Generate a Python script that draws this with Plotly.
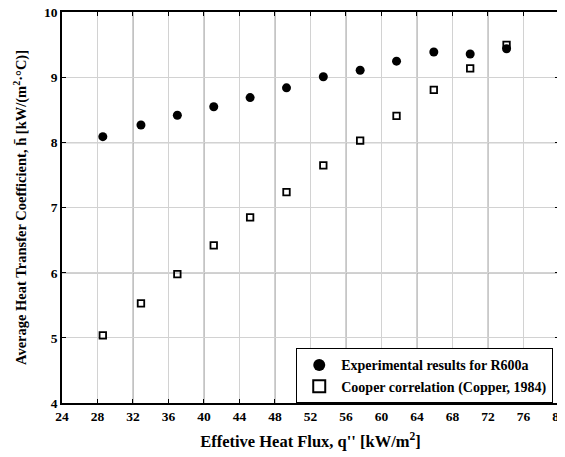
import plotly.graph_objects as go

heat_flux = [28.6, 32.9, 37.0, 41.1, 45.2, 49.3, 53.45, 57.6, 61.7, 65.9, 70.0, 74.1]
h_experimental = [8.09, 8.27, 8.42, 8.55, 8.69, 8.84, 9.01, 9.11, 9.25, 9.39, 9.36, 9.44]
h_cooper = [5.04, 5.53, 5.98, 6.42, 6.85, 7.24, 7.65, 8.03, 8.41, 8.81, 9.14, 9.50]

x_ticks = list(range(24, 81, 4))
y_ticks = list(range(4, 11, 1))
x_major_grid = [32, 40, 48, 56, 64, 72]
y_major_grid = [6, 8]

font = "Liberation Serif, Times New Roman, serif"

fig = go.Figure()
fig.add_trace(go.Scatter(
    x=heat_flux, y=h_experimental, mode="markers",
    name="Experimental results for R600a",
    marker=dict(symbol="circle", size=9, color="black"),
))
fig.add_trace(go.Scatter(
    x=heat_flux, y=h_cooper, mode="markers",
    name="Cooper correlation (Copper, 1984)",
    marker=dict(symbol="square-open", size=6.5, color="black", line=dict(width=1.8, color="black")),
))

shapes = []
for xv in x_major_grid:
    shapes.append(dict(type="line", xref="x", yref="paper", x0=xv, x1=xv, y0=0, y1=1,
                       line=dict(color="#a0a0a0", width=1.3), layer="below"))
for yv in y_major_grid:
    shapes.append(dict(type="line", xref="paper", yref="y", x0=0, x1=1, y0=yv, y1=yv,
                       line=dict(color="#a0a0a0", width=1.3), layer="below"))

bold = dict(family=font, color="black", weight="bold")

fig.update_layout(
    width=565, height=449,
    margin=dict(l=54, r=14, t=4, b=54, autoexpand=False),
    paper_bgcolor="white", plot_bgcolor="white",
    font=dict(family=font, size=13, color="black", weight="bold"),
    showlegend=True,
    legend=dict(x=0.988, y=0.07, xanchor="right", yanchor="middle",
                bordercolor="black", borderwidth=1.2, bgcolor="white",
                font=dict(size=14, **bold),
                tracegroupgap=0, itemsizing="constant", itemwidth=34),
    shapes=shapes,
    xaxis=dict(
        range=[24, 80.01], tickvals=x_ticks,
        showgrid=True, gridcolor="#d2d2d2", gridwidth=1,
        showline=True, linecolor="black", linewidth=1.6, mirror="ticks",
        ticks="inside", ticklen=4, tickcolor="black",
        zeroline=False, automargin=False, ticklabeloverflow="allow",
        title=dict(text="Effetive Heat Flux, q'' [kW/m<sup>2</sup>]",
                   font=dict(size=16.5, **bold), standoff=12),
        tickfont=dict(size=13.5, **bold),
    ),
    yaxis=dict(
        range=[4, 10.005], tickvals=y_ticks,
        showgrid=True, gridcolor="#d2d2d2", gridwidth=1,
        showline=True, linecolor="black", linewidth=1.6, mirror="ticks",
        ticks="inside", ticklen=4, tickcolor="black",
        zeroline=False, automargin=False, ticklabeloverflow="allow",
        title=dict(text="Average Heat Transfer Coefficient, h\u0304 [kW/(m<sup>2</sup>\u00b7\u00b0C)]",
                   font=dict(size=14.5, **bold), standoff=14),
        tickfont=dict(size=13.5, **bold),
    ),
)

fig.write_html("out.html")
